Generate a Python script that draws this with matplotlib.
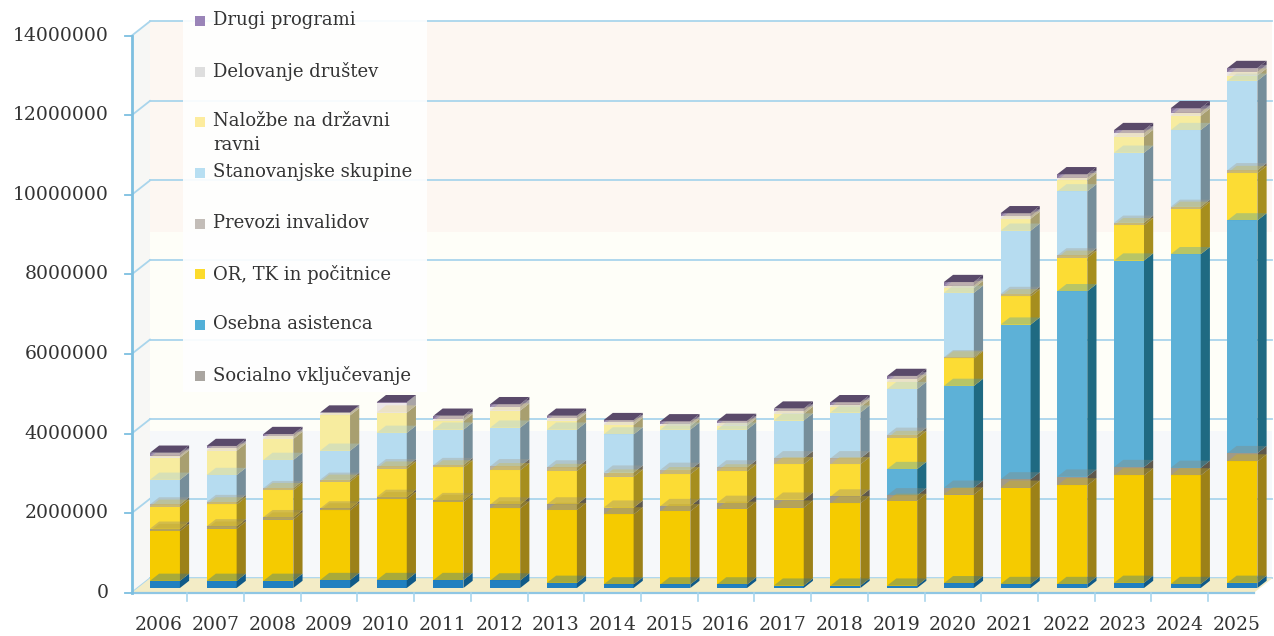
import matplotlib
matplotlib.use("Agg")
import matplotlib.pyplot as plt
from matplotlib.patches import Polygon, Rectangle

# --- data (millions), stacked bottom -> top ---
years = [str(y) for y in range(2006, 2026)]

brez_oznake_1 = [0.18, 0.18, 0.18, 0.20, 0.20, 0.20, 0.19, 0.13, 0.09, 0.09,
                 0.09, 0.06, 0.06, 0.06, 0.12, 0.10, 0.10, 0.13, 0.10, 0.13]
brez_oznake_2 = [1.25, 1.31, 1.54, 1.75, 2.03, 1.96, 1.81, 1.83, 1.76, 1.84,
                 1.90, 1.96, 2.07, 2.13, 2.23, 2.42, 2.48, 2.70, 2.73, 3.05]
socialno = [0.06, 0.06, 0.06, 0.05, 0.06, 0.05, 0.10, 0.14, 0.17, 0.13,
            0.15, 0.20, 0.17, 0.14, 0.17, 0.21, 0.22, 0.21, 0.19, 0.21]
osebna = [0, 0, 0, 0, 0, 0, 0, 0, 0, 0,
          0, 0, 0, 0.66, 2.56, 3.89, 4.66, 5.19, 5.37, 5.85]
or_tk = [0.55, 0.55, 0.68, 0.67, 0.71, 0.82, 0.86, 0.84, 0.78, 0.80,
         0.79, 0.89, 0.81, 0.78, 0.69, 0.71, 0.84, 0.89, 1.14, 1.19]
prevozi = [0.06, 0.06, 0.05, 0.05, 0.06, 0.06, 0.10, 0.09, 0.10, 0.11,
           0.10, 0.15, 0.15, 0.08, 0.03, 0.06, 0.06, 0.06, 0.05, 0.07]
stanovanjske = [0.62, 0.68, 0.71, 0.73, 0.84, 0.89, 0.97, 0.95, 0.96, 1.01,
                0.95, 0.95, 1.15, 1.15, 1.62, 1.59, 1.61, 1.76, 1.93, 2.25]
nalozbe = [0.56, 0.61, 0.53, 0.89, 0.51, 0.21, 0.43, 0.23, 0.24, 0.09,
           0.10, 0.17, 0.14, 0.18, 0.12, 0.30, 0.28, 0.40, 0.36, 0.13]
delovanje = [0.05, 0.06, 0.06, 0.06, 0.25, 0.06, 0.09, 0.06, 0.07, 0.06,
             0.06, 0.06, 0.06, 0.07, 0.06, 0.06, 0.06, 0.09, 0.08, 0.09]
drugi = [0.07, 0.06, 0.06, 0.01, 0.01, 0.08, 0.07, 0.06, 0.05, 0.06,
         0.06, 0.07, 0.06, 0.08, 0.09, 0.08, 0.09, 0.08, 0.11, 0.10]

legend_labels = ["Drugi programi", "Delovanje društev", "Naložbe na državni\nravni",
                 "Stanovanjske skupine", "Prevozi invalidov", "OR, TK in počitnice",
                 "Osebna asistenca", "Socialno vključevanje"]
legend_colors = ["#9a84b8", "#dedede", "#fdec9e", "#b8dff2", "#c3bdb8",
                 "#fcdb2c", "#52b0d8", "#a9a5a0"]

series = [brez_oznake_1, brez_oznake_2, socialno, osebna, or_tk, prevozi,
          stanovanjske, nalozbe, delovanje, drugi]
# front, side, top colours
styles = [("#2080c0", "#105a88", "#1a6ea8"),
          ("#f5cb00", "#9c8118", "#dcb400"),
          ("#a19a88", "#5e584c", "#8a8474"),
          ("#5db1d7", "#1f6a82", "#3a9cc6"),
          ("#fcdc34", "#a68e1e", "#e8c820"),
          ("#b9b09e", "#6e6858", "#a49c8a"),
          ("#b6dcf0", "#768e9a", "#9ccbe2"),
          ("#f7ec9f", "#a89f70", "#ecdc88"),
          ("#ebe6e8", "#a8a4a6", "#dcd6e0"),
          ("#8a769e", "#4e4060", "#5a4a6a")]

W, H = 1274, 636
fig = plt.figure(figsize=(W / 100, H / 100), dpi=100)
fig.patch.set_facecolor("white")

x0px, x1px = 131.7, 1254.0
ybot, ytop = 592.7, 35.7
ax = fig.add_axes([x0px / W, (H - ybot) / H, (x1px - x0px) / W, (ybot - ytop) / H])
xmin, xmax = -0.48, 19.31
ymax = 14e6
ax.set_xlim(xmin, xmax)
ax.set_ylim(0, ymax)
ax.axis("off")

ux = (xmax - xmin) / (x1px - x0px)
uy = ymax / (ybot - ytop)


def off(px, py):
    return px * ux, py * uy


fdx, fdy = off(18.3, 14.4)
grid_c = "#a9d5ec"
txt_c = "#333333"
font = "DejaVu Serif"

# back wall, banded
bands = [(0, 3.7e6, "#f6f8fa"), (3.7e6, 8.7e6, "#fefef8"), (8.7e6, ymax, "#fdf7f2")]
for lo, hi, c in bands:
    ax.add_patch(Polygon([(xmin + fdx, lo + fdy), (xmax + fdx, lo + fdy),
                          (xmax + fdx, hi + fdy), (xmin + fdx, hi + fdy)],
                         closed=True, fc=c, ec="none", zorder=0, clip_on=False))
# left wall
ax.add_patch(Polygon([(xmin, 0), (xmin + fdx, fdy), (xmin + fdx, ymax + fdy), (xmin, ymax)],
                     closed=True, fc="#f7f7f5", ec="none", zorder=0, clip_on=False))

ticks = [i * 2e6 for i in range(8)]
for v in ticks:
    ax.plot([xmin + fdx, xmax + fdx], [v + fdy, v + fdy], color=grid_c, lw=1.3,
            zorder=1, clip_on=False)
    ax.plot([xmin, xmin + fdx], [v, v + fdy], color=grid_c, lw=1.3, zorder=1, clip_on=False)
    tdx, _ = off(7, 0)
    ax.plot([xmin - tdx, xmin], [v, v], color="#7dbfe0", lw=1.3, zorder=3, clip_on=False)
    lx, _ = off(23, 0)
    ax.text(xmin - lx, v, str(int(v)), ha="right", va="center", fontsize=13.5,
            family=font, color=txt_c)

# floor
ax.add_patch(Polygon([(xmin, 0), (xmax, 0), (xmax + fdx, fdy), (xmin + fdx, fdy)],
                     closed=True, fc="#f3ecc6", ec="none", zorder=1, clip_on=False))
ax.plot([xmin, xmax], [0, 0], color="#8fc6e3", lw=1.6, zorder=3, clip_on=False)
ax.plot([xmin, xmin], [0, ymax], color="#7dbfe0", lw=2.0, zorder=3, clip_on=False)

# category ticks and labels
_, tdy = off(0, 8)
for i in range(len(years) - 1):
    ax.plot([i + 0.5, i + 0.5], [0, -tdy], color="#a9d5ec", lw=1.2, zorder=3, clip_on=False)
_, ldy = off(0, 32)
for i, y in enumerate(years):
    ax.text(i, -ldy, y, ha="center", va="center", fontsize=13.5, family=font, color=txt_c)

# bars
bw = 30 * ux
bxo, byo = off(6, 4.7)
ddx, ddy = off(9.2, 7.2)

for i in range(len(years)):
    left = i + bxo - bw / 2
    bottom = byo
    tops = []
    for k, s in enumerate(series):
        v = s[i] * 1e6
        if v <= 0:
            continue
        front, side, top = styles[k]
        b, t = bottom, bottom + v
        ax.add_patch(Rectangle((left, b), bw, v, fc=front, ec="none", zorder=4,
                               clip_on=False))
        ax.add_patch(Polygon([(left + bw, b), (left + bw + ddx, b + ddy),
                              (left + bw + ddx, t + ddy), (left + bw, t)],
                             closed=True, fc=side, ec="none", zorder=4, clip_on=False))
        tops.append((t, top))
        bottom = t
    for j, (t, top) in enumerate(tops):
        last = j == len(tops) - 1
        ax.add_patch(Polygon([(left, t), (left + bw, t), (left + bw + ddx, t + ddy),
                              (left + ddx, t + ddy)], closed=True, fc=top, ec="none",
                             alpha=1.0 if last else 0.35, zorder=5, clip_on=False))

# legend box
fig.patches.append(Rectangle((183 / W, 1 - 392 / H), (427 - 183) / W, 392 / H,
                             transform=fig.transFigure, fc="white", ec="none",
                             alpha=0.9, zorder=6))
for k, (lab, c) in enumerate(zip(legend_labels, legend_colors)):
    yc = 21 + 50.7 * k
    fig.patches.append(Rectangle((195 / W, 1 - (yc + 5) / H), 10 / W, 10 / H,
                                 transform=fig.transFigure, fc=c, ec="none", zorder=7))
    fig.text(213 / W, 1 - (yc - 10) / H, lab, ha="left", va="top", fontsize=13,
             family=font, color=txt_c, linespacing=1.4, zorder=8)

fig.savefig("out.png", dpi=100)
